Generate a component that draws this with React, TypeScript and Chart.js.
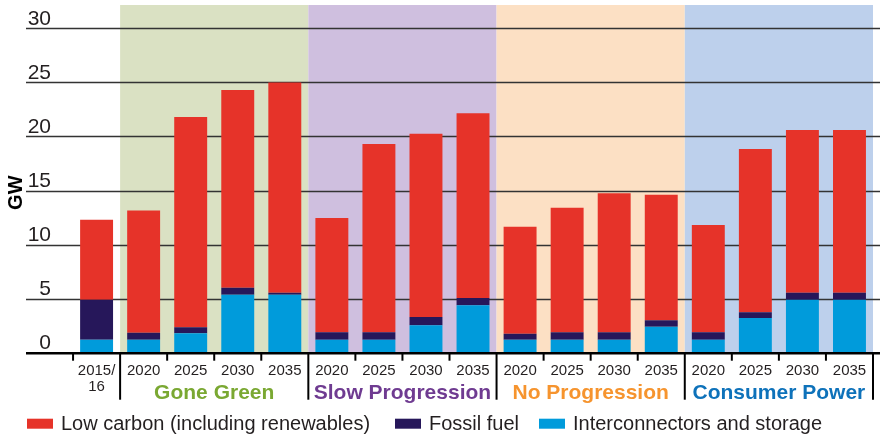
import React, { useEffect, useRef } from "react";
import { Chart, registerables } from "chart.js";

Chart.register(...registerables);

// ---- Data ----
const categories: (string | string[])[] = [
  "", ["2015/", "16"],
  "2020", "2025", "2030", "2035",
  "2020", "2025", "2030", "2035",
  "2020", "2025", "2030", "2035",
  "2020", "2025", "2030", "2035",
];
const interconnectors = [null, 1.2, 1.2, 1.8, 5.35, 5.35, 1.2, 1.2, 2.55, 4.4, 1.2, 1.2, 1.2, 2.4, 1.2, 3.2, 4.9, 4.9];
const fossil = [null, 3.7, 0.65, 0.55, 0.65, 0.2, 0.7, 0.7, 0.75, 0.65, 0.55, 0.7, 0.7, 0.6, 0.7, 0.55, 0.65, 0.65];
const lowCarbon = [null, 7.4, 11.3, 19.45, 18.3, 19.45, 10.55, 17.4, 16.95, 17.1, 9.9, 11.5, 12.85, 11.6, 9.9, 15.1, 15.05, 15.05];

const groupNames = ["Gone Green", "Slow Progression", "No Progression", "Consumer Power"];
const groupStart = [2, 6, 10, 14];
const groupEnd = [5, 9, 13, 17];
const groupShade = ["#DAE1C3", "#CFBFDF", "#FCE0C4", "#BDD0EC"];
const groupText = ["#7AA832", "#6F3B91", "#F6942E", "#0E72BA"];

const yTicks = [0, 5, 10, 15, 20, 25, 30];
const yMax = 32.16;

const seriesNames = ["Low carbon (including renewables)", "Fossil fuel", "Interconnectors and storage"];
const seriesColors = ["#E63329", "#26175A", "#009BDB"];

const FONT = "'Liberation Sans', Arial, Helvetica, sans-serif";

const decorPlugin = {
  id: "decor",
  beforeDatasetsDraw(chart: any) {
    const { ctx, chartArea, scales } = chart;
    const x = scales.x;
    const y = scales.y;
    const half = (x.getPixelForValue(1) - x.getPixelForValue(0)) / 2;
    ctx.save();
    // group shading
    for (let g = 0; g < groupNames.length; g++) {
      const l = x.getPixelForValue(groupStart[g]) - half;
      const r = x.getPixelForValue(groupEnd[g]) + half;
      ctx.fillStyle = groupShade[g];
      ctx.fillRect(l, chartArea.top, r - l, chartArea.bottom - chartArea.top);
    }
    // gridlines
    ctx.strokeStyle = "#333";
    ctx.lineWidth = 1.3;
    for (const t of yTicks) {
      if (t === 0) continue;
      const py = Math.round(y.getPixelForValue(t)) + 0.5;
      ctx.beginPath();
      ctx.moveTo(chartArea.left, py);
      ctx.lineTo(chart.width, py);
      ctx.stroke();
    }
    // y tick labels
    ctx.fillStyle = "#231F20";
    ctx.font = `21px ${FONT}`;
    ctx.textAlign = "right";
    ctx.textBaseline = "alphabetic";
    for (const t of yTicks) {
      const py = y.getPixelForValue(t);
      ctx.fillText(String(t), chartArea.left + 25, py - 3.5);
    }
    // GW label
    ctx.save();
    ctx.translate(16, y.getPixelForValue(14.8));
    ctx.rotate(-Math.PI / 2);
    ctx.font = `bold 20px ${FONT}`;
    ctx.textAlign = "center";
    ctx.textBaseline = "middle";
    ctx.fillStyle = "#000";
    ctx.fillText("GW", 0, 0);
    ctx.restore();
    ctx.restore();
  },
  afterDatasetsDraw(chart: any) {
    const { ctx, chartArea, scales } = chart;
    const x = scales.x;
    const half = (x.getPixelForValue(1) - x.getPixelForValue(0)) / 2;
    const base = chartArea.bottom;
    ctx.save();
    // axis line
    ctx.strokeStyle = "#000";
    ctx.lineWidth = 2.5;
    ctx.beginPath();
    ctx.moveTo(chartArea.left, base + 0.5);
    ctx.lineTo(chart.width, base + 0.5);
    ctx.stroke();
    // ticks at boundaries
    ctx.lineWidth = 2;
    for (let i = 1; i < categories.length; i++) {
      const px = x.getPixelForValue(i) - half;
      const isGroup = groupStart.includes(i);
      ctx.beginPath();
      ctx.moveTo(px, base);
      ctx.lineTo(px, isGroup ? base + 47 : base + 8);
      ctx.stroke();
    }
    {
      const px = x.getPixelForValue(categories.length - 1) + half;
      ctx.beginPath();
      ctx.moveTo(px, base);
      ctx.lineTo(px, base + 47);
      ctx.stroke();
    }
    // category labels
    ctx.fillStyle = "#231F20";
    ctx.font = `15px ${FONT}`;
    ctx.textAlign = "center";
    ctx.textBaseline = "middle";
    categories.forEach((c, i) => {
      const px = x.getPixelForValue(i);
      const lines = Array.isArray(c) ? c : [c];
      lines.forEach((ln, k) => ctx.fillText(ln, px, base + 18 + k * 16));
    });
    // group labels
    ctx.font = `bold 21px ${FONT}`;
    for (let g = 0; g < groupNames.length; g++) {
      const l = x.getPixelForValue(groupStart[g]) - half;
      const r = x.getPixelForValue(groupEnd[g]) + half;
      ctx.fillStyle = groupText[g];
      ctx.fillText(groupNames[g], (l + r) / 2, base + 41);
    }
    // legend
    const legendX = [27, 395, 539];
    const ly = base + 71;
    ctx.font = `20px ${FONT}`;
    ctx.textAlign = "left";
    for (let s = 0; s < seriesNames.length; s++) {
      ctx.fillStyle = seriesColors[s];
      ctx.fillRect(legendX[s], ly - 5, 26, 10);
      ctx.fillStyle = "#231F20";
      ctx.fillText(seriesNames[s], legendX[s] + 34, ly + 1);
    }
    ctx.restore();
  },
};

export default function App() {
  const ref = useRef<HTMLCanvasElement>(null);
  useEffect(() => {
    if (!ref.current) return;
    const chart = new Chart(ref.current, {
      type: "bar",
      data: {
        labels: categories as any,
        datasets: [
          { label: seriesNames[2], data: interconnectors as any, backgroundColor: seriesColors[2] },
          { label: seriesNames[1], data: fossil as any, backgroundColor: seriesColors[1] },
          { label: seriesNames[0], data: lowCarbon as any, backgroundColor: seriesColors[0] },
        ],
      },
      options: {
        responsive: false,
        animation: false,
        layout: { padding: { left: 26, right: 7, top: 5, bottom: 85.3 } },
        datasets: { bar: { categoryPercentage: 1, barPercentage: 0.7 } },
        plugins: { legend: { display: false }, tooltip: { enabled: false } },
        scales: {
          x: { stacked: true, display: false, offset: true, grid: { display: false } },
          y: { stacked: true, display: false, min: 0, max: yMax },
        },
      },
      plugins: [decorPlugin],
    });
    return () => chart.destroy();
  }, []);
  return (
    <div style={{ position: "absolute", left: 0, top: 0, width: 880, height: 438, background: "#fff" }}>
      <canvas ref={ref} width={880} height={438} style={{ display: "block" }} />
    </div>
  );
}
